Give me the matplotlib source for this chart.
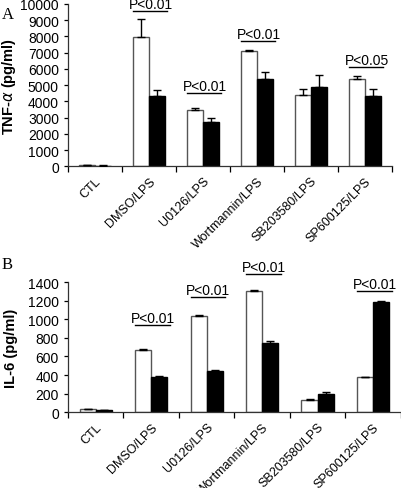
import numpy as np
import matplotlib
matplotlib.use('Agg')
import matplotlib.pyplot as plt

plt.rcParams['font.family'] = ['Liberation Sans', 'DejaVu Sans']

# Data
categories = ['CTL', 'DMSO/LPS', 'U0126/LPS', 'Wortmannin/LPS', 'SB203580/LPS', 'SP600125/LPS']

tnf_white = [50, 7950, 3480, 7100, 4400, 5400]
tnf_white_err = [30, 1150, 130, 50, 330, 170]
tnf_black = [30, 4350, 2750, 5400, 4850, 4300]
tnf_black_err = [20, 330, 200, 380, 780, 450]

il6_white = [30, 670, 1035, 1300, 130, 375]
il6_white_err = [3, 10, 8, 15, 10, 8]
il6_black = [25, 375, 445, 750, 200, 1185]
il6_black_err = [3, 10, 12, 20, 20, 10]

# significance brackets: (category index, line height, label)
tnf_sig = [(1, 9570, 'P<0.01'), (2, 4500, 'P<0.01'), (3, 7720, 'P<0.01'), (5, 6110, 'P<0.05')]
il6_sig = [(1, 937, 'P<0.01'), (2, 1238, 'P<0.01'), (3, 1486, 'P<0.01'), (5, 1303, 'P<0.01')]

EDGE = '#555555'


def draw_panel(ax, white, white_err, black, black_err, sig, ymax, ystep, ylabel):
    x = np.arange(len(categories))
    w = 0.29
    ax.bar(x - w / 2, white, w, color='white', edgecolor=EDGE, linewidth=1.0, zorder=2)
    ax.bar(x + w / 2, black, w, color='black', edgecolor='black', linewidth=1.0, zorder=2)
    ax.errorbar(x - w / 2, white, yerr=[np.zeros(len(white)), white_err], fmt='none',
                ecolor='black', elinewidth=1.0, capsize=3, capthick=1.0, zorder=3)
    ax.errorbar(x + w / 2, black, yerr=[np.zeros(len(black)), black_err], fmt='none',
                ecolor='black', elinewidth=1.0, capsize=3, capthick=1.0, zorder=3)

    for i, h, label in sig:
        ax.plot([i - 0.29, i + 0.34], [h, h], color='black', lw=1.0, clip_on=False)
        ax.text(i + 0.03, h, label, ha='center', va='bottom',
                fontsize=10, clip_on=False)

    ax.set_xlim(-0.5, len(categories) - 0.5)
    ax.set_ylim(0, ymax)
    ax.set_yticks(np.arange(0, ymax + 1, ystep))
    ax.set_xticks(np.arange(len(categories) + 1) - 0.5)
    ax.set_xticklabels([])
    ax.set_xticks(x, minor=True)
    ax.set_xticklabels(categories, minor=True, rotation=45, ha='right',
                       rotation_mode='anchor', fontsize=9)
    ax.tick_params(axis='x', which='minor', length=0, pad=6)
    ax.tick_params(axis='x', which='major', length=4, direction='out', width=0.9)
    ax.tick_params(axis='y', length=3, direction='out', labelsize=10, width=0.9)
    for s in ['top', 'right']:
        ax.spines[s].set_visible(False)
    for s in ['left', 'bottom']:
        ax.spines[s].set_color('#333333')
        ax.spines[s].set_linewidth(0.9)
    ax.set_ylabel(ylabel, fontsize=10.5, fontweight='bold')
    ax.yaxis.set_label_coords(-50 / (ax.get_position().width * 402), 0.5)


fig = plt.figure(figsize=(4.02, 4.89), dpi=100)
ax1 = fig.add_axes([0.169, 0.658, 0.806, 0.332])
ax2 = fig.add_axes([0.169, 0.155, 0.828, 0.266])

draw_panel(ax1, tnf_white, tnf_white_err, tnf_black, tnf_black_err, tnf_sig,
           10000, 1000, r'TNF-$\alpha$ (pg/ml)')
draw_panel(ax2, il6_white, il6_white_err, il6_black, il6_black_err, il6_sig,
           1400, 200, 'IL-6 (pg/ml)')

fig.text(0.005, 0.985, 'A', family='Liberation Serif', fontsize=12, va='top')
fig.text(0.005, 0.475, 'B', family='Liberation Serif', fontsize=12, va='top')

fig.savefig('out.png', dpi=100, facecolor='white')
